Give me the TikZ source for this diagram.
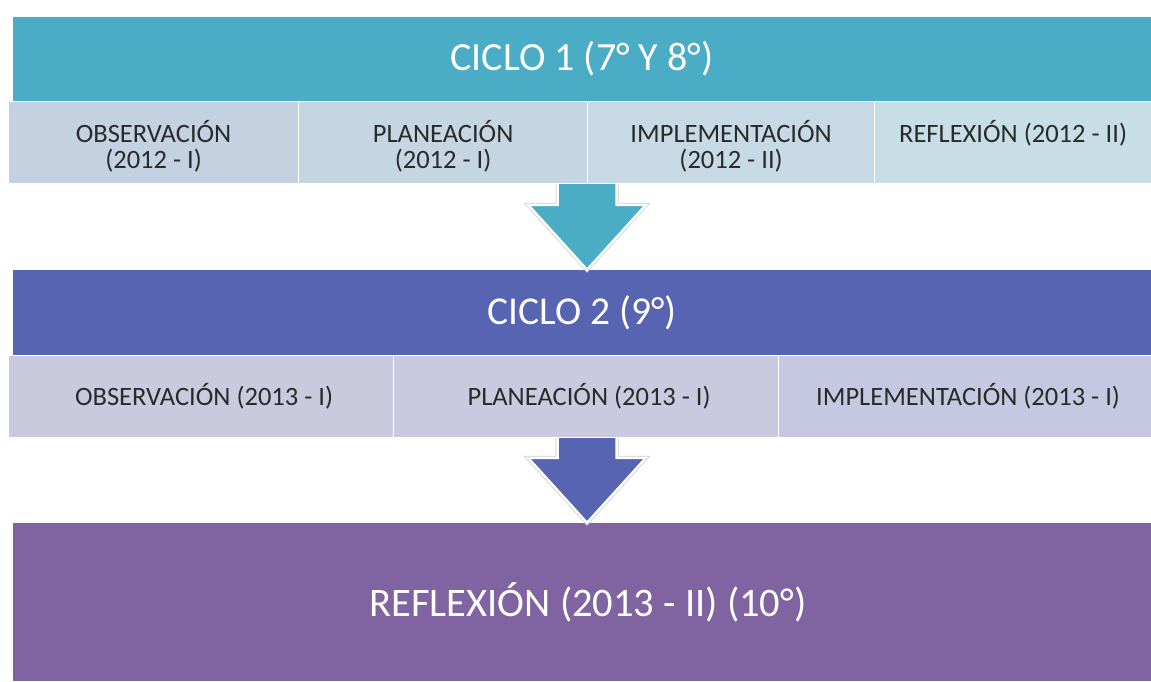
\documentclass[tikz,border=0pt]{standalone}
\usepackage{fontspec}
\setmainfont{Carlito}
\usepackage{tikz}
\usetikzlibrary{positioning}

\definecolor{ciclouno}{HTML}{4BACC6}
\definecolor{ciclodos}{HTML}{5664B2}
\definecolor{reflexion}{HTML}{8064A2}
\definecolor{subA1}{HTML}{C4D1E0}
\definecolor{subA2}{HTML}{C5D6E2}
\definecolor{subA3}{HTML}{C6D9E4}
\definecolor{subA4}{HTML}{C8DEE7}
\definecolor{subB1}{HTML}{CACADF}
\definecolor{subB2}{HTML}{C9C9E0}
\definecolor{subB3}{HTML}{C6C8E2}
\definecolor{textdark}{HTML}{2A2A2A}

\begin{document}
\begin{tikzpicture}[x=1pt, y=-1pt,
    band/.style={rectangle, inner sep=0pt, minimum width=1138pt, text=white},
    subbox/.style={rectangle, inner sep=0pt, draw=white, line width=1.2pt},
    subtext/.style={text=textdark, align=center, font=\fontsize{26.5}{25.5}\selectfont},
    bigarrow/.style={draw=white, line width=2.5pt, line join=miter,
        preaction={draw=black!20, line width=4pt}}]
    \useasboundingbox (0,0) rectangle (1151,681);

    % Cycle bands
    \node[band, fill=ciclouno, minimum height=84pt, font=\fontsize{40}{40}\selectfont] (ciclo1) at (582,59) {CICLO 1 (7° Y 8°)};
    \node[band, fill=ciclodos, minimum height=85pt, font=\fontsize{39.5}{40}\selectfont] (ciclo2) at (582,312.5) {CICLO 2 (9°)};
    \node[band, fill=reflexion, minimum height=158pt] (ciclo3) at (582,602) {};
    \node[text=white, font=\fontsize{40.5}{40}\selectfont] (ciclo3-t) at ([xshift=6pt]ciclo3.center) {REFLEXIÓN (2013 - II) (10°)};

    % Arrows between the cycles
    \coordinate (mid) at (587,0);
    \foreach \to/\c in {ciclo2/ciclouno, ciclo3/ciclodos} {
        \draw[bigarrow, fill=\c] (mid |- \to.north) -- ++(-59,-65) -- ++(29.5,0) -- ++(0,-27)
            -- ++(59,0) -- ++(0,27) -- ++(29.5,0) -- cycle;
    }

    % Phases of cycle 1
    \foreach \n/\xa/\xb/\c/\t in {obsA/8/298/subA1/{OBSERVACIÓN\\(2012 - I)},
                                  plaA/298/587/subA2/{PLANEACIÓN\\(2012 - I)},
                                  impA/587/874/subA3/{IMPLEMENTACIÓN\\(2012 - II)},
                                  refA/874/1151/subA4/{REFLEXIÓN (2012 - II)}} {
        \node[subbox, fill=\c, minimum width={(\xb-\xa)*1pt}, minimum height=82pt, anchor=north west] (\n) at (\xa,101) {};
        \node[subtext, anchor=north] (\n-t) at ([yshift=-16pt]\n.north) {\t};
    }

    % Phases of cycle 2
    \foreach \n/\xa/\xb/\c/\t in {obsB/8/393/subB1/{OBSERVACIÓN (2013 - I)},
                                  plaB/393/778/subB2/{PLANEACIÓN (2013 - I)},
                                  impB/778/1151/subB3/{IMPLEMENTACIÓN (2013 - I)}} {
        \node[subbox, fill=\c, minimum width={(\xb-\xa)*1pt}, minimum height=82pt, anchor=north west] (\n) at (\xa,355) {};
        \node[subtext] (\n-t) at ([xshift=3pt]\n.center) {\t};
    }
\end{tikzpicture}
\end{document}
